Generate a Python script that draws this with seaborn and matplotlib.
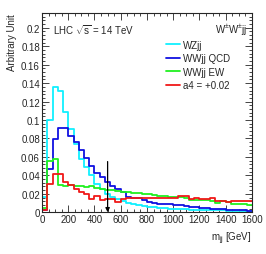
import numpy as np
import pandas as pd
import matplotlib
matplotlib.use("Agg")
import matplotlib.pyplot as plt
import seaborn as sns
from matplotlib.ticker import MultipleLocator

# 40 bins of 40 GeV from 0 to 1600
bin_edges = list(range(0, 1601, 40))
bin_centers = [e + 20 for e in bin_edges[:-1]]

wzjj = [0.017, 0.100, 0.136, 0.132, 0.109, 0.090, 0.074, 0.058, 0.049, 0.040,
        0.031, 0.025, 0.020, 0.017, 0.0145, 0.0125, 0.010, 0.0085, 0.0075, 0.0068,
        0.006, 0.0055, 0.005, 0.0045, 0.004, 0.0037, 0.0034, 0.0031, 0.003, 0.0028,
        0.0025, 0.0023, 0.0022, 0.0021, 0.002, 0.0019, 0.0018, 0.0017, 0.0016, 0.0015]
wwjj_qcd = [0.003, 0.047, 0.079, 0.091, 0.091, 0.083, 0.076, 0.067, 0.059, 0.050,
            0.043, 0.038, 0.033, 0.029, 0.025, 0.022, 0.017, 0.0159, 0.015, 0.013,
            0.011, 0.0105, 0.0095, 0.009, 0.0085, 0.008, 0.0075, 0.007, 0.0062, 0.0058,
            0.0052, 0.0048, 0.004, 0.0036, 0.0033, 0.003, 0.0026, 0.0022, 0.002, 0.0016]
wwjj_ew = [0.005, 0.056, 0.058, 0.030, 0.029, 0.030, 0.028, 0.029, 0.027, 0.028,
           0.026, 0.025, 0.0245, 0.024, 0.023, 0.0218, 0.0215, 0.021, 0.0205, 0.020,
           0.0198, 0.0185, 0.018, 0.0178, 0.017, 0.0168, 0.0166, 0.0158, 0.0137, 0.0137,
           0.0135, 0.013, 0.0125, 0.010, 0.0122, 0.011, 0.0094, 0.009, 0.0085, 0.0076]
a4_002 = [0.003, 0.031, 0.042, 0.041, 0.033, 0.030, 0.025, 0.022, 0.020, 0.014,
          0.018, 0.013, 0.014, 0.0145, 0.0115, 0.0145, 0.015, 0.0158, 0.0155, 0.016,
          0.0155, 0.0158, 0.016, 0.0155, 0.016, 0.0158, 0.0175, 0.0177, 0.0148, 0.015,
          0.0148, 0.0146, 0.015, 0.0125, 0.0122, 0.0115, 0.0122, 0.0123, 0.0122, 0.0122]

labels = ["WZjj", "WWjj QCD", "WWjj EW", "a4 = +0.02"]
colors = ["#10f0ff", "#1010e0", "#20f020", "#f01818"]
series = [wzjj, wwjj_qcd, wwjj_ew, a4_002]

cut_value = 500
arrow_top = 0.055

sns.set_style("ticks")
plt.rcParams['font.family'] = ['Liberation Sans', 'DejaVu Sans']
plt.rcParams['mathtext.fontset'] = 'custom'
plt.rcParams['mathtext.rm'] = 'Liberation Sans'
plt.rcParams['mathtext.it'] = 'Liberation Sans:italic'

fig = plt.figure(figsize=(2.66, 2.55), dpi=100)
ax = fig.add_axes([0.158, 0.1635, 0.789, 0.7815])

for lab, col, vals in zip(labels, colors, series):
    df = pd.DataFrame({"mjj": bin_centers, "w": vals})
    sns.histplot(data=df, x="mjj", weights="w", bins=bin_edges, element="step",
                 fill=False, color=col, linewidth=1.3, ax=ax, label=lab)

ax.annotate("", xy=(cut_value, 0), xytext=(cut_value, arrow_top),
            arrowprops=dict(arrowstyle="-|>", color="black", lw=0.9,
                            mutation_scale=6, shrinkA=0, shrinkB=0))

ax.set_xlim(0, 1600)
ax.set_ylim(0, 0.216)
ax.xaxis.set_major_locator(MultipleLocator(200))
ax.xaxis.set_minor_locator(MultipleLocator(50))
ax.yaxis.set_major_locator(MultipleLocator(0.02))
ax.yaxis.set_minor_locator(MultipleLocator(0.004))
ax.yaxis.set_major_formatter(plt.FuncFormatter(lambda v, p: "0" if abs(v) < 1e-9 else ("%.2f" % v).rstrip("0")))
ax.tick_params(which="both", direction="in", top=True, right=True, labelsize=7,
               width=0.6, pad=1.5)
ax.tick_params(which="major", length=5)
ax.tick_params(which="minor", length=2.5)
for s in ax.spines.values():
    s.set_linewidth(0.8)

ax.set_xlabel(r"m$_\mathregular{jj}$ [GeV]", fontsize=7, loc="right", labelpad=4)
ax.set_ylabel("Arbitrary Unit", fontsize=7, loc="top", labelpad=3)

ax.text(0.05, 0.92, r"LHC $\sqrt{\mathregular{s}}$ = 14 TeV", transform=ax.transAxes,
        fontsize=7, ha="left", va="center")
ax.text(0.98, 0.92, r"W$^{\pm}$W$^{\pm}$jj", transform=ax.transAxes,
        fontsize=7, ha="right", va="center")

ax.legend(loc="upper left", bbox_to_anchor=(0.56, 0.9), frameon=False, fontsize=7,
          handlelength=1.4, handletextpad=0.3, labelspacing=0.35, borderpad=0.2)

fig.savefig("out.png", dpi=100)
